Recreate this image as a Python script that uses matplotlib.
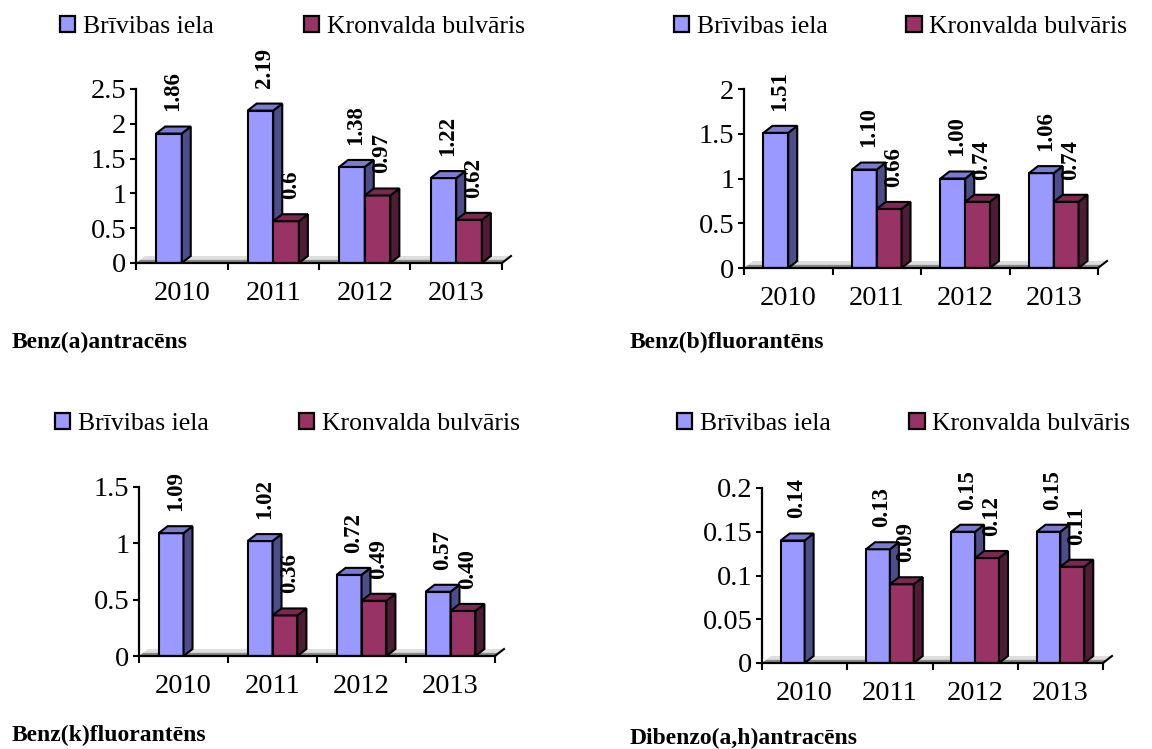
import numpy as np
import matplotlib.pyplot as plt
from matplotlib.patches import Patch

plt.rcParams['font.family'] = ['Liberation Serif', 'DejaVu Serif']

years = ['2010', '2011', '2012', '2013']
nan = np.nan

benz_a_brivibas = [1.86, 2.19, 1.38, 1.22]
benz_a_kronvalda = [nan, 0.6, 0.97, 0.62]

benz_b_brivibas = [1.51, 1.10, 1.00, 1.06]
benz_b_kronvalda = [nan, 0.66, 0.74, 0.74]

benz_k_brivibas = [1.09, 1.02, 0.72, 0.57]
benz_k_kronvalda = [nan, 0.36, 0.49, 0.40]

dibenzo_brivibas = [0.14, 0.13, 0.15, 0.15]
dibenzo_kronvalda = [nan, 0.09, 0.12, 0.11]

series_names = ['Brīvibas iela', 'Kronvalda bulvāris']

W, H = 1152, 749
fig = plt.figure(figsize=(W / 100, H / 100), dpi=100)

DX, DY = 9, 7      # 3d depth in pixels
BW = 0.28          # bar width (category units)

# front, side, top colours
colours = [('#9999ff', '#4d4d8a', '#7b7bd0'),
           ('#993366', '#4f1c36', '#7a2952')]


def draw_panel(box, yticks, briv, kron, fmt, title, title_xy, legend_xy, colspace):
    left, right, y0, ytop = box
    ymax = yticks[-1]
    ax = fig.add_axes([left / W, 1 - y0 / H, (right - left) / W, (y0 - ytop) / H])
    ax.set_xlim(0, 4)
    ax.set_ylim(0, ymax)
    ddx = DX * 4 / (right - left)
    ddy = DY * ymax / (y0 - ytop)

    # floor
    ax.fill([0, 4, 4 + ddx, ddx], [0, 0, ddy, ddy], color='#dedede',
            lw=0, clip_on=False, zorder=1)
    ax.fill([0, 4, 4 + 0.45 * ddx, 0.45 * ddx], [0, 0, 0.45 * ddy, 0.45 * ddy],
            color='#8a8a8a', lw=0, clip_on=False, zorder=1)
    ax.plot([4, 4 + ddx], [0, ddy], color='black', lw=1.5, clip_on=False, zorder=1)

    for k, vals in enumerate([briv, kron]):
        front, side, top = colours[k]
        for i, v in enumerate(vals):
            if np.isnan(v):
                continue
            x0 = i + 0.5 - BW + k * BW
            x1 = x0 + BW
            z = 2 + k
            ax.bar(x0, v, BW, align='edge', color=front, edgecolor='black',
                   lw=1.5, zorder=z)
            ax.fill([x1, x1 + ddx, x1 + ddx, x1], [0, ddy, v + ddy, v],
                    facecolor=side, edgecolor='black', lw=1.5, zorder=z,
                    clip_on=False)
            ax.fill([x0, x1, x1 + ddx, x0 + ddx], [v, v, v + ddy, v + ddy],
                    facecolor=top, edgecolor='black', lw=1.5, zorder=z,
                    clip_on=False)
            ax.annotate(fmt.format(v), (x0 + BW / 2, v), xytext=(3, 16),
                        textcoords='offset points', rotation=90,
                        ha='center', va='bottom', fontweight='bold',
                        fontsize=16.5, zorder=5, annotation_clip=False)

    for s in ['top', 'right']:
        ax.spines[s].set_visible(False)
    for s in ['left', 'bottom']:
        ax.spines[s].set_linewidth(1.6)
        ax.spines[s].set_zorder(6)

    ax.set_yticks(yticks)
    ax.set_yticklabels(['{:g}'.format(t) for t in yticks], fontsize=20.5)
    ax.tick_params(axis='y', direction='out', length=4, width=1.5, pad=3)
    ax.set_xticks([0, 1, 2, 3, 4])
    ax.set_xticklabels([])
    ax.tick_params(axis='x', which='major', direction='out', length=5, width=1.5)
    ax.set_xticks([0.5, 1.5, 2.5, 3.5], minor=True)
    ax.set_xticklabels(years, minor=True, fontsize=20.5)
    ax.tick_params(axis='x', which='minor', length=0, pad=13)

    fig.text(title_xy[0] / W, 1 - title_xy[1] / H, title, fontsize=17,
             fontweight='bold', ha='left', va='center')

    handles = [Patch(facecolor=colours[k][0], edgecolor='black', lw=1.6,
                     label=series_names[k]) for k in range(2)]
    fig.legend(handles=handles, loc='center left',
               bbox_to_anchor=(legend_xy[0] / W, 1 - legend_xy[1] / H),
               ncol=2, frameon=False, fontsize=18.5, handlelength=0.6,
               handleheight=0.6, handletextpad=0.3, columnspacing=colspace,
               borderpad=0, borderaxespad=0)


draw_panel((136, 502, 263, 89), [0, 0.5, 1, 1.5, 2, 2.5],
           benz_a_brivibas, benz_a_kronvalda, '{:g}',
           'Benz(a)antracēns', (12, 342), (60, 27), 3.5)

draw_panel((744, 1098, 268, 89), [0, 0.5, 1, 1.5, 2],
           benz_b_brivibas, benz_b_kronvalda, '{:.2f}',
           'Benz(b)fluorantēns', (630, 342), (674, 27), 3.05)

draw_panel((139, 495, 656, 487), [0, 0.5, 1, 1.5],
           benz_k_brivibas, benz_k_kronvalda, '{:.2f}',
           'Benz(k)fluorantēns', (12, 735), (55, 424), 3.5)

draw_panel((762, 1103, 663, 488), [0, 0.05, 0.1, 0.15, 0.2],
           dibenzo_brivibas, dibenzo_kronvalda, '{:.2f}',
           'Dibenzo(a,h)antracēns', (630, 738), (677, 424), 3.05)

plt.savefig('out.png', dpi=100)
